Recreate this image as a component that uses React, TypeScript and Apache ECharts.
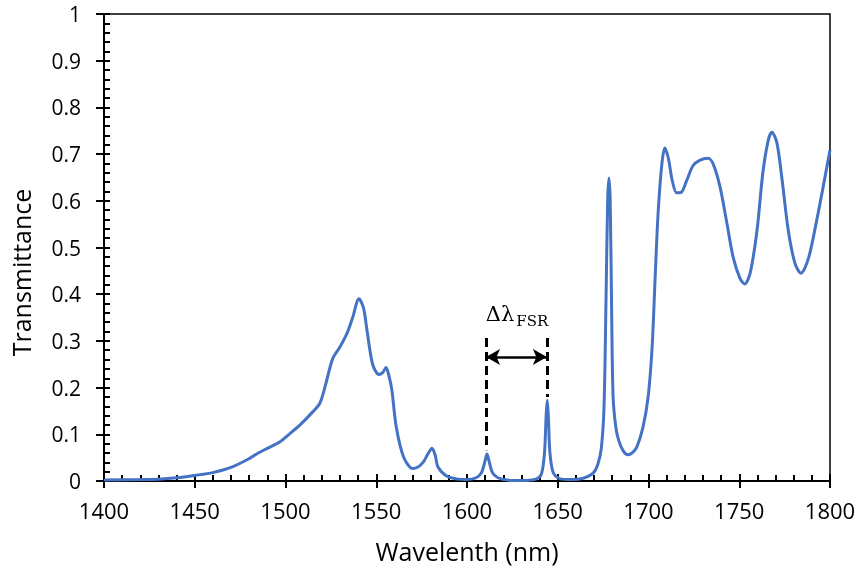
import React, { useEffect, useRef } from "react";
import * as echarts from "echarts";

const wavelengths = [
  1400, 1420, 1430, 1440, 1450, 1460, 1470, 1480, 1485, 1490, 1497, 1502, 1508, 1515, 1519, 1522, 1526, 1530, 1534, 1537,
  1540.5, 1543, 1545, 1548, 1551.5, 1553.5, 1555.4, 1557, 1558.6, 1561, 1565, 1570, 1573, 1576, 1578.5, 1580.7, 1582.5, 1584, 1589, 1595,
  1600, 1605, 1608, 1610, 1611, 1612, 1614, 1617, 1622, 1630, 1638, 1641, 1642.7, 1643.6, 1644.2, 1644.8, 1645.7, 1647.5, 1651, 1658,
  1664, 1669.5, 1672, 1674, 1675.5, 1676.6, 1677.5, 1678.2, 1678.9, 1679.7, 1680.5, 1682, 1683.5, 1686, 1688.7, 1691, 1693.6, 1697, 1699.8, 1702,
  1703.6, 1705.3, 1707.4, 1709, 1711, 1713, 1715.5, 1718, 1721, 1724.5, 1728.4, 1732.8, 1735.5, 1739.4, 1743.2, 1746.6, 1750.4, 1753, 1756, 1759.8,
  1763, 1766, 1768, 1770.8, 1773.6, 1777, 1780.7, 1784, 1788, 1792, 1796, 1800,
];

const transmittance = [
  0.002, 0.003, 0.004, 0.007, 0.012, 0.018, 0.029, 0.048, 0.06, 0.07, 0.084, 0.1, 0.12, 0.148, 0.167, 0.205, 0.262, 0.287, 0.317, 0.35,
  0.39, 0.37, 0.32, 0.25, 0.228, 0.232, 0.243, 0.225, 0.195, 0.116, 0.052, 0.027, 0.03, 0.041, 0.058, 0.07, 0.055, 0.03, 0.01, 0.004,
  0.003, 0.007, 0.018, 0.044, 0.058, 0.045, 0.018, 0.007, 0.002, 0.001, 0.004, 0.015, 0.06, 0.14, 0.173, 0.14, 0.06, 0.018, 0.005, 0.003,
  0.006, 0.017, 0.035, 0.07, 0.16, 0.39, 0.6, 0.649, 0.6, 0.36, 0.18, 0.115, 0.088, 0.065, 0.056, 0.06, 0.073, 0.116, 0.18, 0.287,
  0.43, 0.574, 0.68, 0.713, 0.69, 0.645, 0.617, 0.618, 0.643, 0.675, 0.687, 0.691, 0.68, 0.63, 0.552, 0.48, 0.434, 0.422, 0.445, 0.537,
  0.66, 0.73, 0.747, 0.723, 0.645, 0.537, 0.466, 0.445, 0.475, 0.545, 0.625, 0.709,
];

// FSR annotation (data coordinates)
const fsrLeft = 1610.5;
const fsrRight = 1644;
const fsrArrowY = 0.2655;
const fsrTopY = 0.306;
const fsrLeftBottomY = 0.066;
const fsrRightBottomY = 0.18;

const xTitle = "Wavelenth (nm)";
const yTitle = "Transmittance";

const FONT = "'Open Sans', 'Noto Sans', sans-serif";
const SERIF = "'DejaVu Serif', 'Liberation Serif', serif";

export default function App() {
  const ref = useRef<HTMLDivElement>(null);
  useEffect(() => {
    if (!ref.current) return;
    const chart = echarts.init(ref.current, undefined, { renderer: "svg" });
    const data = wavelengths.map((w, i) => [w, transmittance[i]]);
    const axisCommon = {
      type: "value" as const,
      splitLine: { show: false },
    };
    const dash = { color: "#000", width: 3, type: [9, 5] as any };
    const plain = (v: number) => String(Math.round(v * 1000) / 1000);
    chart.setOption({
      animation: false,
      grid: {
        left: 104,
        right: 29,
        top: 14,
        bottom: 90,
        show: true,
        borderColor: "#000",
        borderWidth: 1.5,
      },
      xAxis: [
        {
          ...axisCommon,
          min: 1400,
          max: 1800,
          interval: 50,
          position: "bottom",
          axisLine: { show: true, onZero: false, lineStyle: { color: "#000", width: 2 } },
          axisTick: { show: true, inside: false, length: 7, lineStyle: { color: "#000", width: 2 } },
          axisLabel: { color: "#000", fontFamily: FONT, fontSize: 22, margin: 18, formatter: plain },
          name: xTitle,
          nameLocation: "middle",
          nameGap: 57,
          nameTextStyle: { color: "#000", fontFamily: FONT, fontSize: 25 },
        },
        {
          ...axisCommon,
          min: 1400,
          max: 1800,
          interval: 50,
          position: "bottom",
          axisLine: { show: true, onZero: false, lineStyle: { color: "#000", width: 2 } },
          axisTick: { show: true, inside: true, length: 7, lineStyle: { color: "#000", width: 2 } },
          minorTick: { show: true, splitNumber: 5, length: 6, lineStyle: { color: "#000", width: 2 } },
          axisLabel: { show: false },
        },
      ],
      yAxis: [
        {
          ...axisCommon,
          min: 0,
          max: 1,
          interval: 0.1,
          position: "left",
          axisLine: { show: true, onZero: false, lineStyle: { color: "#000", width: 2 } },
          axisTick: { show: true, inside: false, length: 8, lineStyle: { color: "#000", width: 2 } },
          axisLabel: { color: "#000", fontFamily: FONT, fontSize: 21, lineHeight: 20, margin: 23, formatter: plain },
          name: yTitle,
          nameLocation: "middle",
          nameGap: 71,
          nameRotate: 90,
          nameTextStyle: { color: "#000", fontFamily: FONT, fontSize: 25, padding: [0, 50, 0, 0] },
        },
        {
          ...axisCommon,
          min: 0,
          max: 1,
          interval: 0.1,
          position: "left",
          axisLine: { show: true, onZero: false, lineStyle: { color: "#000", width: 2 } },
          axisTick: { show: true, inside: true, length: 6, lineStyle: { color: "#000", width: 2 } },
          minorTick: { show: true, splitNumber: 5, length: 6, lineStyle: { color: "#000", width: 2 } },
          axisLabel: { show: false },
        },
      ],
      series: [
        {
          type: "line",
          xAxisIndex: 0,
          yAxisIndex: 0,
          data,
          smooth: 0.3,
          showSymbol: false,
          symbol: "none",
          lineStyle: { color: "#4472C4", width: 3 },
          markLine: {
            silent: true,
            animation: false,
            symbol: ["none", "none"],
            label: { show: false },
            data: [
              [
                { coord: [fsrLeft, fsrTopY], lineStyle: dash },
                { coord: [fsrLeft, fsrLeftBottomY] },
              ],
              [
                { coord: [fsrRight, fsrTopY], lineStyle: dash },
                { coord: [fsrRight, fsrRightBottomY] },
              ],
              [
                {
                  coord: [fsrLeft, fsrArrowY],
                  symbol: "arrow",
                  symbolSize: [12, 14],
                  lineStyle: { color: "#000", width: 2.5, type: "solid" },
                },
                { coord: [fsrRight, fsrArrowY], symbol: "arrow", symbolSize: [12, 14] },
              ],
            ],
          },
          markPoint: {
            silent: true,
            animation: false,
            symbol: "circle",
            symbolSize: 0,
            data: [
              {
                coord: [1618.2, 0.358],
                label: {
                  show: true,
                  position: "inside",
                  formatter: "Δλ",
                  color: "#000",
                  fontFamily: SERIF,
                  fontSize: 21,
                },
              },
              {
                coord: [1636, 0.343],
                label: {
                  show: true,
                  position: "inside",
                  formatter: "FSR",
                  color: "#000",
                  fontFamily: SERIF,
                  fontSize: 15,
                },
              },
            ],
          },
        },
      ],
    });
    return () => chart.dispose();
  }, []);
  return (
    <div
      ref={ref}
      style={{ position: "fixed", left: 0, top: 0, width: 859, height: 571 }}
    />
  );
}
